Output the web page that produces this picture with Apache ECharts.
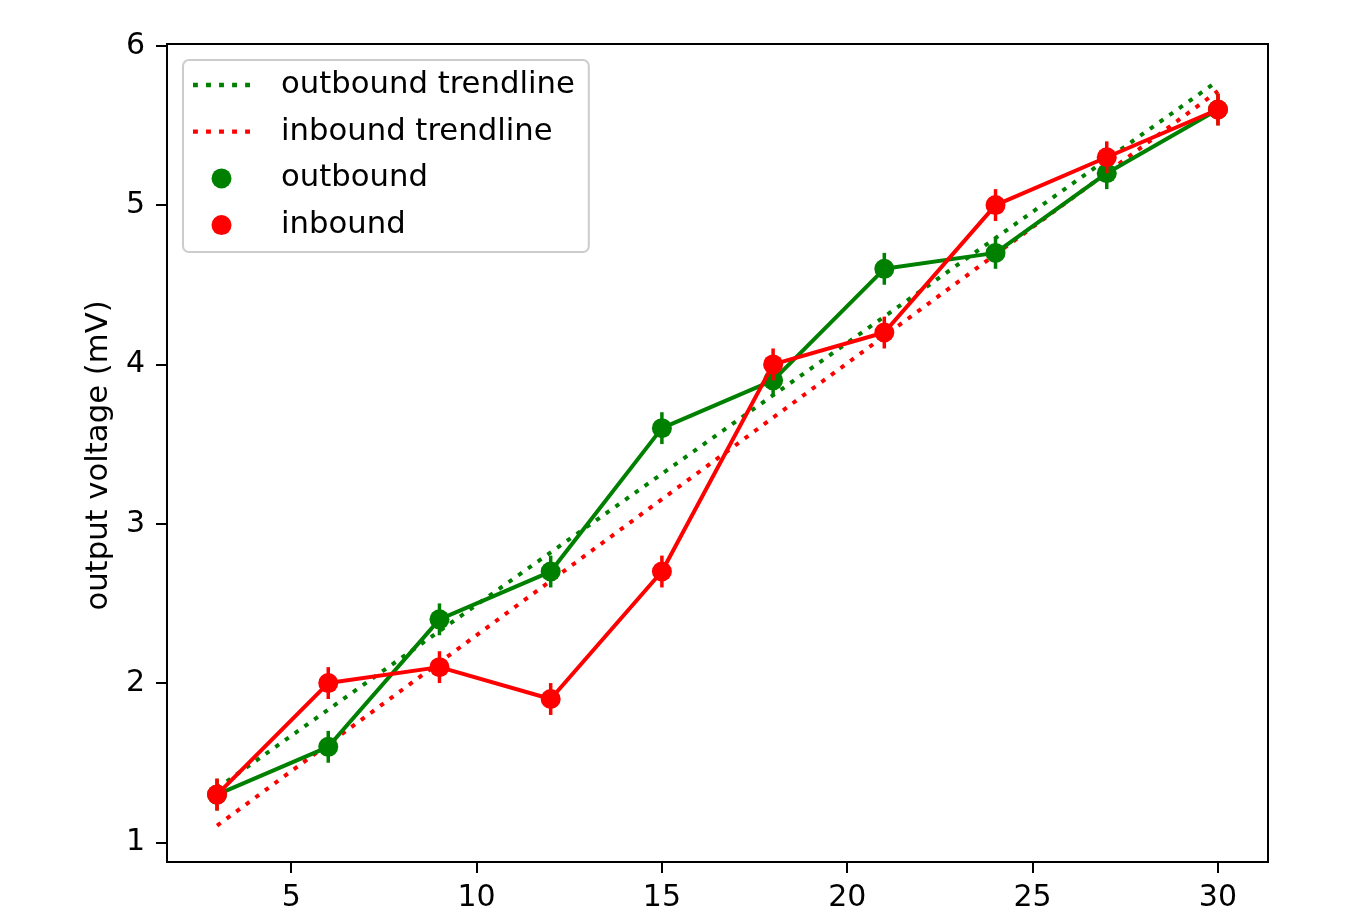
<!DOCTYPE html>
<html>
<head>
<meta charset="utf-8">
<script src="https://cdn.jsdelivr.net/npm/echarts@6/dist/echarts.min.js"></script>
<style>
html,body{margin:0;padding:0;background:#fff;}
#chart{width:1351px;height:922px;}
</style>
</head>
<body>
<div id="chart"></div>
<script>
// ---- data ----
const distances = [3, 6, 9, 12, 15, 18, 21, 24, 27, 30];
const outboundV = [1.3, 1.6, 2.4, 2.7, 3.6, 3.9, 4.6, 4.7, 5.2, 5.6];
const inboundV  = [1.3, 2.0, 2.1, 1.9, 2.7, 4.0, 4.2, 5.0, 5.3, 5.6];
const errV = [0.1, 0.1, 0.1, 0.1, 0.1, 0.1, 0.1, 0.1, 0.1, 0.1];
const outboundTrendX = [3, 30];
const outboundTrendY = [1.34, 5.78];
const inboundTrendX = [3, 30];
const inboundTrendY = [1.105, 5.715];
const xTicks = [5, 10, 15, 20, 25, 30];
const yTicks = [1, 2, 3, 4, 5, 6];
const yAxisTitle = 'output voltage (mV)';
const legendNames = ['outbound trendline', 'inbound trendline', 'outbound', 'inbound'];

const GREEN = '#008000';
const RED = '#ff0000';
const FONT = 'DejaVu Sans';
// dotted-line legend glyph (five short dashes)
const DOTTED_ICON = 'path://M0,0h4.5v4h-4.5zM12,0h4.5v4h-4.5zM24,0h4.5v4h-4.5zM36,0h4.5v4h-4.5zM48,0h4.5v4h-4.5z';

const pairs = (xs, ys) => xs.map((x, i) => [x, ys[i]]);
const triples = (xs, ys, es) => xs.map((x, i) => [x, ys[i], es[i]]);

function errRender(color) {
  return function (params, api) {
    const x = api.value(0), y = api.value(1), e = api.value(2);
    const a = api.coord([x, y + e]);
    const b = api.coord([x, y - e]);
    return {
      type: 'line',
      shape: { x1: a[0], y1: a[1], x2: b[0], y2: b[1] },
      style: { stroke: color, lineWidth: 3.5 }
    };
  };
}

const chart = echarts.init(document.getElementById('chart'), null, { renderer: 'canvas' });
chart.setOption({
  animation: false,
  backgroundColor: '#fff',
  textStyle: { fontFamily: FONT },
  grid: {
    left: 167, top: 44, right: 83, bottom: 60,
    show: true, borderColor: '#000', borderWidth: 2, backgroundColor: 'transparent'
  },
  xAxis: {
    type: 'value', min: 1.65, max: 31.35,
    axisLine: { show: false },
    splitLine: { show: false },
    axisTick: { show: true, length: 11, inside: false, customValues: xTicks, lineStyle: { color: '#000', width: 2 } },
    axisLabel: { show: true, customValues: xTicks, margin: 21, fontSize: 30, color: '#000', fontFamily: FONT }
  },
  yAxis: {
    type: 'value', min: 0.877, max: 6.011,
    name: yAxisTitle, nameLocation: 'middle', nameGap: 52,
    nameTextStyle: { fontSize: 30.7, color: '#000', fontFamily: FONT, padding: [0, 5, 0, 0] },
    axisLine: { show: false },
    splitLine: { show: false },
    axisTick: { show: true, length: 11, inside: false, customValues: yTicks, lineStyle: { color: '#000', width: 2 } },
    axisLabel: { show: true, customValues: yTicks, margin: 22, fontSize: 30, color: '#000', fontFamily: FONT }
  },
  legend: {
    left: 183, top: 60,
    orient: 'vertical',
    padding: [7, 14, 9, 10],
    itemGap: 10.7,
    itemWidth: 57,
    itemHeight: 20,
    backgroundColor: 'rgba(255,255,255,0.85)',
    borderColor: '#cccccc',
    borderWidth: 2,
    borderRadius: 6,
    textStyle: { fontSize: 30.7, color: '#000', fontFamily: FONT, lineHeight: 36, padding: [0, 0, 0, 26] },
    data: [
      { name: legendNames[0], icon: DOTTED_ICON },
      { name: legendNames[1], icon: DOTTED_ICON },
      { name: legendNames[2], icon: 'circle' },
      { name: legendNames[3], icon: 'circle' }
    ]
  },
  series: [
    {
      name: legendNames[0], type: 'line', data: pairs(outboundTrendX, outboundTrendY),
      symbol: 'none', showSymbol: false, color: GREEN,
      itemStyle: { color: GREEN },
      lineStyle: { color: GREEN, width: 4, type: [4.5, 7.4], cap: 'butt' }, z: 2
    },
    {
      name: legendNames[1], type: 'line', data: pairs(inboundTrendX, inboundTrendY),
      symbol: 'none', showSymbol: false, color: RED,
      itemStyle: { color: RED },
      lineStyle: { color: RED, width: 4, type: [4.5, 7.4], cap: 'butt' }, z: 2
    },
    {
      name: legendNames[2], type: 'line', data: pairs(distances, outboundV),
      symbol: 'circle', symbolSize: 20, color: GREEN,
      itemStyle: { color: GREEN }, lineStyle: { color: GREEN, width: 4 }, z: 3
    },
    {
      name: legendNames[2], type: 'custom', data: triples(distances, outboundV, errV),
      renderItem: errRender(GREEN), z: 3
    },
    {
      name: legendNames[3], type: 'line', data: pairs(distances, inboundV),
      symbol: 'circle', symbolSize: 20, color: RED,
      itemStyle: { color: RED }, lineStyle: { color: RED, width: 4 }, z: 4
    },
    {
      name: legendNames[3], type: 'custom', data: triples(distances, inboundV, errV),
      renderItem: errRender(RED), z: 4
    }
  ]
});
</script>
</body>
</html>
